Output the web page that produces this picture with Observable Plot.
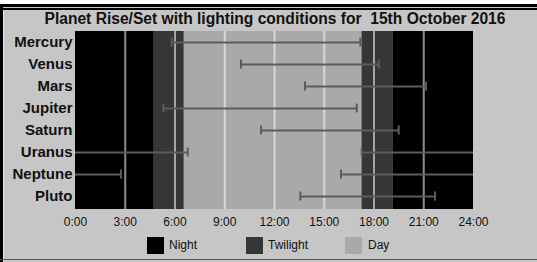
<!DOCTYPE html>
<html>
<head>
<meta charset="utf-8">
<script src="https://cdn.jsdelivr.net/npm/d3@7"></script>
<script src="https://cdn.jsdelivr.net/npm/@observablehq/plot@0.6"></script>
<style>
  body { margin: 0; background: #fff; font-family: "Liberation Sans", Arial, sans-serif; }
  #wrap { position: relative; width: 537px; height: 262px; background: #c6c6c6; overflow: hidden; }
  #title { height: 28px; box-sizing: border-box; padding-top: 11px; padding-left: 13px; line-height: 15px;
           font-size: 15.6px; font-weight: bold; text-align: center; color: #111; white-space: pre; }
  #chart { height: 204px; }
  #chart svg { display: block; }
  .deco { position: absolute; }
  .sw { position: absolute; width: 17px; height: 17px; }
  .lab { position: absolute; font-size: 12px; line-height: 12px; color: #111; }
</style>
</head>
<body>
<div id="wrap">
  <div id="title"></div>
  <div id="chart"></div>
  <div class="deco" style="left:0;top:0;width:537px;height:4px;background:#fff"></div>
  <div class="deco" style="left:0;top:4px;width:537px;height:3px;background:#000"></div>
  <div class="deco" style="left:0;top:8px;width:537px;height:2px;background:#000"></div>
  <div class="deco" style="left:0;top:4px;width:3px;height:258px;background:#000"></div>
  <div class="deco" style="left:3px;top:10px;width:1px;height:252px;background:#e6e6e6"></div>
  <div class="deco" style="left:0;top:259px;width:537px;height:1px;background:#555"></div>
</div>
<script>
const titleText = "Planet Rise/Set with lighting conditions for  15th October 2016";

const planets = ["Mercury", "Venus", "Mars", "Jupiter", "Saturn", "Uranus", "Neptune", "Pluto"];
// hours (decimal)
const riseTimes = [5.80, 9.98, 13.84, 5.30, 11.19, 17.26, 16.01, 13.56];
const setTimes  = [17.18, 18.29, 21.14, 16.96, 19.49, 6.77, 2.74, 21.68];

const lightTypes  = ["Night", "Twilight", "Day", "Twilight", "Night"];
const lightStarts = [0, 4.75, 6.56, 17.28, 19.17];
const lightEnds   = [4.75, 6.56, 17.28, 19.17, 24];

const legendNames  = ["Night", "Twilight", "Day"];
const legendColors = ["#000000", "#363636", "#a9a9a9"];

const xTickValues = [0, 3, 6, 9, 12, 15, 18, 21, 24];
const xTickLabels = ["0:00", "3:00", "6:00", "9:00", "12:00", "15:00", "18:00", "21:00", "24:00"];
const gridValues = [3, 6, 9, 12, 15, 18, 21];

document.getElementById("title").textContent = titleText;

const zones = lightTypes.map((t, i) => ({type: t, start: lightStarts[i], end: lightEnds[i]}));
const segs = [];
const caps = [];
planets.forEach((p, i) => {
  const r = riseTimes[i], s = setTimes[i];
  if (r < s) {
    segs.push({planet: p, a: r, b: s});
    caps.push({planet: p, t: r}, {planet: p, t: s});
  } else {
    segs.push({planet: p, a: 0, b: s});
    segs.push({planet: p, a: r, b: 24});
    caps.push({planet: p, t: s}, {planet: p, t: r});
  }
});

const barColor = "#5c5c5c";

const chart = Plot.plot({
  width: 537,
  height: 204,
  marginTop: 3,
  marginBottom: 23,
  marginLeft: 75,
  marginRight: 64,
  style: {background: "transparent", fontFamily: "'Liberation Sans', Arial, sans-serif", color: "#111"},
  x: {domain: [0, 24]},
  y: {domain: planets, padding: 0},
  color: {domain: legendNames, range: legendColors},
  marks: [
    Plot.rect(zones, {x1: "start", x2: "end", fill: "type"}),
    Plot.ruleX(gridValues, {stroke: "#fff", strokeOpacity: 0.55, strokeWidth: 2}),
    Plot.ruleY(segs, {y: "planet", x1: "a", x2: "b", stroke: barColor, strokeWidth: 2, dy: -1}),
    Plot.tickX(caps, {x: "t", y: "planet", stroke: barColor, strokeWidth: 2, insetTop: 6.5, insetBottom: 6.5, dy: -1}),
    Plot.axisX({ticks: xTickValues, tickFormat: (d) => xTickLabels[xTickValues.indexOf(d)], tickSize: 0, tickPadding: 8, fontSize: 12, label: null}),
    Plot.axisY({tickSize: 0, tickPadding: 3, fontSize: 15, fontWeight: "bold", label: null, dy: -1})
  ]
});
document.getElementById("chart").appendChild(chart);

// legend
const wrap = document.getElementById("wrap");
const swX = [147, 246, 345];
const labX = [169, 268, 368];
legendNames.forEach((n, i) => {
  const sw = document.createElement("div");
  sw.className = "sw";
  sw.style.left = swX[i] + "px";
  sw.style.top = "237px";
  sw.style.background = legendColors[i];
  wrap.appendChild(sw);
  const lb = document.createElement("div");
  lb.className = "lab";
  lb.style.left = labX[i] + "px";
  lb.style.top = "239px";
  lb.textContent = n;
  wrap.appendChild(lb);
});
</script>
</body>
</html>
